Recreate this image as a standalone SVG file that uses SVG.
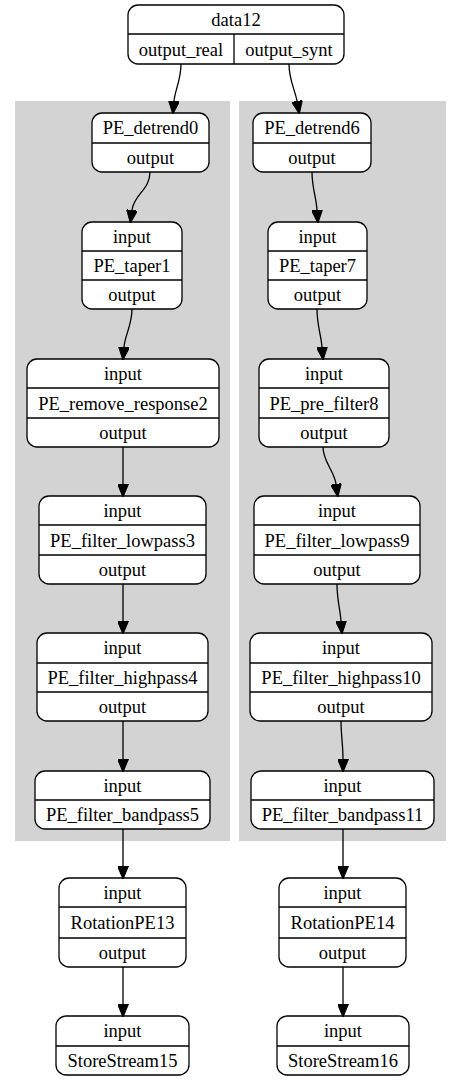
<svg xmlns="http://www.w3.org/2000/svg" width="461" height="1081" viewBox="0 0 461 1081" font-family="'Liberation Serif', 'Times New Roman', serif" font-size="18.5">
<style>
.box{fill:#fff;stroke:#000;stroke-width:1.3}
.div{stroke:#000;stroke-width:1.3}
.cl{fill:#d3d3d3;stroke:none}
text{text-anchor:middle;fill:#000}
.e{fill:none;stroke:#000;stroke-width:1.3;marker-end:url(#ah)}
</style>
<defs>
<marker id="ah" markerUnits="userSpaceOnUse" markerWidth="13" markerHeight="11" refX="0" refY="5" orient="auto" viewBox="0 0 12 10">
<path d="M0,0 L12,5 L0,10 z" fill="#000" stroke="#000" stroke-width="1"/>
</marker>
</defs>
<rect width="461" height="1081" fill="#fff"/>
<g id="clusters">
<rect class="cl" x="15" y="101" width="215" height="740"/>
<rect class="cl" x="239" y="101" width="207" height="740"/>
</g>
<g id="data12">
<rect class="box" x="128" y="5" width="216" height="59" rx="10"/>
<line class="div" x1="128" y1="34" x2="344" y2="34"/>
<line class="div" x1="234" y1="34" x2="234" y2="64"/>
<text x="236" y="25.5">data12</text>
<text x="181" y="55.5">output_real</text>
<text x="289" y="55.5">output_synt</text>
</g>
<g id="PE_detrend0">
<rect class="box" x="92" y="113" width="117" height="59" rx="10"/>
<line class="div" x1="92" y1="143" x2="209" y2="143"/>
<text x="150.5" y="134">PE_detrend0</text>
<text x="150.5" y="163.5">output</text>
</g>
<g id="PE_detrend6">
<rect class="box" x="253" y="113" width="118" height="59" rx="10"/>
<line class="div" x1="253" y1="143" x2="371" y2="143"/>
<text x="312" y="134">PE_detrend6</text>
<text x="312" y="163.5">output</text>
</g>
<g id="PE_taper1">
<rect class="box" x="82" y="222" width="100" height="87" rx="10"/>
<line class="div" x1="82" y1="251" x2="182" y2="251"/>
<line class="div" x1="82" y1="280" x2="182" y2="280"/>
<text x="132" y="242.5">input</text>
<text x="132" y="271.5">PE_taper1</text>
<text x="132" y="300.5">output</text>
</g>
<g id="PE_taper7">
<rect class="box" x="268" y="222" width="99" height="87" rx="10"/>
<line class="div" x1="268" y1="251" x2="367" y2="251"/>
<line class="div" x1="268" y1="280" x2="367" y2="280"/>
<text x="317.5" y="242.5">input</text>
<text x="317.5" y="271.5">PE_taper7</text>
<text x="317.5" y="300.5">output</text>
</g>
<g id="PE_remove_response2">
<rect class="box" x="27" y="359" width="192" height="88" rx="10"/>
<line class="div" x1="27" y1="388" x2="219" y2="388"/>
<line class="div" x1="27" y1="418" x2="219" y2="418"/>
<text x="123" y="379.5">input</text>
<text x="123" y="409.5">PE_remove_response2</text>
<text x="123" y="438.5">output</text>
</g>
<g id="PE_pre_filter8">
<rect class="box" x="259" y="359" width="130" height="88" rx="10"/>
<line class="div" x1="259" y1="388" x2="389" y2="388"/>
<line class="div" x1="259" y1="418" x2="389" y2="418"/>
<text x="324" y="379.5">input</text>
<text x="324" y="409.5">PE_pre_filter8</text>
<text x="324" y="438.5">output</text>
</g>
<g id="PE_filter_lowpass3">
<rect class="box" x="39" y="496" width="167" height="88" rx="10"/>
<line class="div" x1="39" y1="525" x2="206" y2="525"/>
<line class="div" x1="39" y1="555" x2="206" y2="555"/>
<text x="122.5" y="516.5">input</text>
<text x="122.5" y="546.5">PE_filter_lowpass3</text>
<text x="122.5" y="575.5">output</text>
</g>
<g id="PE_filter_lowpass9">
<rect class="box" x="254" y="496" width="166" height="88" rx="10"/>
<line class="div" x1="254" y1="525" x2="420" y2="525"/>
<line class="div" x1="254" y1="555" x2="420" y2="555"/>
<text x="337" y="516.5">input</text>
<text x="337" y="546.5">PE_filter_lowpass9</text>
<text x="337" y="575.5">output</text>
</g>
<g id="PE_filter_highpass4">
<rect class="box" x="37" y="633" width="171" height="88" rx="10"/>
<line class="div" x1="37" y1="663" x2="208" y2="663"/>
<line class="div" x1="37" y1="692" x2="208" y2="692"/>
<text x="122.5" y="654">input</text>
<text x="122.5" y="683.5">PE_filter_highpass4</text>
<text x="122.5" y="713">output</text>
</g>
<g id="PE_filter_highpass10">
<rect class="box" x="250" y="633" width="182" height="88" rx="10"/>
<line class="div" x1="250" y1="663" x2="432" y2="663"/>
<line class="div" x1="250" y1="692" x2="432" y2="692"/>
<text x="341" y="654">input</text>
<text x="341" y="683.5">PE_filter_highpass10</text>
<text x="341" y="713">output</text>
</g>
<g id="PE_filter_bandpass5">
<rect class="box" x="35" y="771" width="175" height="58" rx="10"/>
<line class="div" x1="35" y1="800" x2="210" y2="800"/>
<text x="122.5" y="791.5">input</text>
<text x="122.5" y="820.5">PE_filter_bandpass5</text>
</g>
<g id="PE_filter_bandpass11">
<rect class="box" x="251" y="771" width="183" height="58" rx="10"/>
<line class="div" x1="251" y1="800" x2="434" y2="800"/>
<text x="342.5" y="791.5">input</text>
<text x="342.5" y="820.5">PE_filter_bandpass11</text>
</g>
<g id="RotationPE13">
<rect class="box" x="59" y="878" width="127" height="89" rx="10"/>
<line class="div" x1="59" y1="907" x2="186" y2="907"/>
<line class="div" x1="59" y1="938" x2="186" y2="938"/>
<text x="122.5" y="899">input</text>
<text x="122.5" y="929">RotationPE13</text>
<text x="122.5" y="958.5">output</text>
</g>
<g id="RotationPE14">
<rect class="box" x="279" y="878" width="127" height="89" rx="10"/>
<line class="div" x1="279" y1="907" x2="406" y2="907"/>
<line class="div" x1="279" y1="938" x2="406" y2="938"/>
<text x="342.5" y="899">input</text>
<text x="342.5" y="929">RotationPE14</text>
<text x="342.5" y="958.5">output</text>
</g>
<g id="StoreStream15">
<rect class="box" x="56" y="1016" width="133" height="59" rx="10"/>
<line class="div" x1="56" y1="1046" x2="189" y2="1046"/>
<text x="122.5" y="1037">input</text>
<text x="122.5" y="1066.5">StoreStream15</text>
</g>
<g id="StoreStream16">
<rect class="box" x="277" y="1016" width="132" height="59" rx="10"/>
<line class="div" x1="277" y1="1046" x2="409" y2="1046"/>
<text x="343" y="1037">input</text>
<text x="343" y="1066.5">StoreStream16</text>
</g>
<g id="connectors">
<path class="e" d="M181,64 C181,80 175,90 174,101"/>
<path class="e" d="M289,64 C289,80 295,90 297,101"/>
<path class="e" d="M150,172 C150,190 134,194 132,210"/>
<path class="e" d="M312,172 C312,188 316,196 317,210"/>
<path class="e" d="M132,309 C132,325 125,335 124,347"/>
<path class="e" d="M317,309 C317,325 321,335 322,347"/>
<path class="e" d="M123,447 L123,484"/>
<path class="e" d="M323,447 C323,462 334,470 336,484"/>
<path class="e" d="M123,584 L123,621"/>
<path class="e" d="M337,584 C337,600 340,608 341,621"/>
<path class="e" d="M123,721 L123,759"/>
<path class="e" d="M341,721 C341,735 343,745 343,759"/>
<path class="e" d="M123,829 L123,866"/>
<path class="e" d="M343,829 L343,866"/>
<path class="e" d="M123,967 L123,1004"/>
<path class="e" d="M343,967 L343,1004"/>
</g>
</svg>
